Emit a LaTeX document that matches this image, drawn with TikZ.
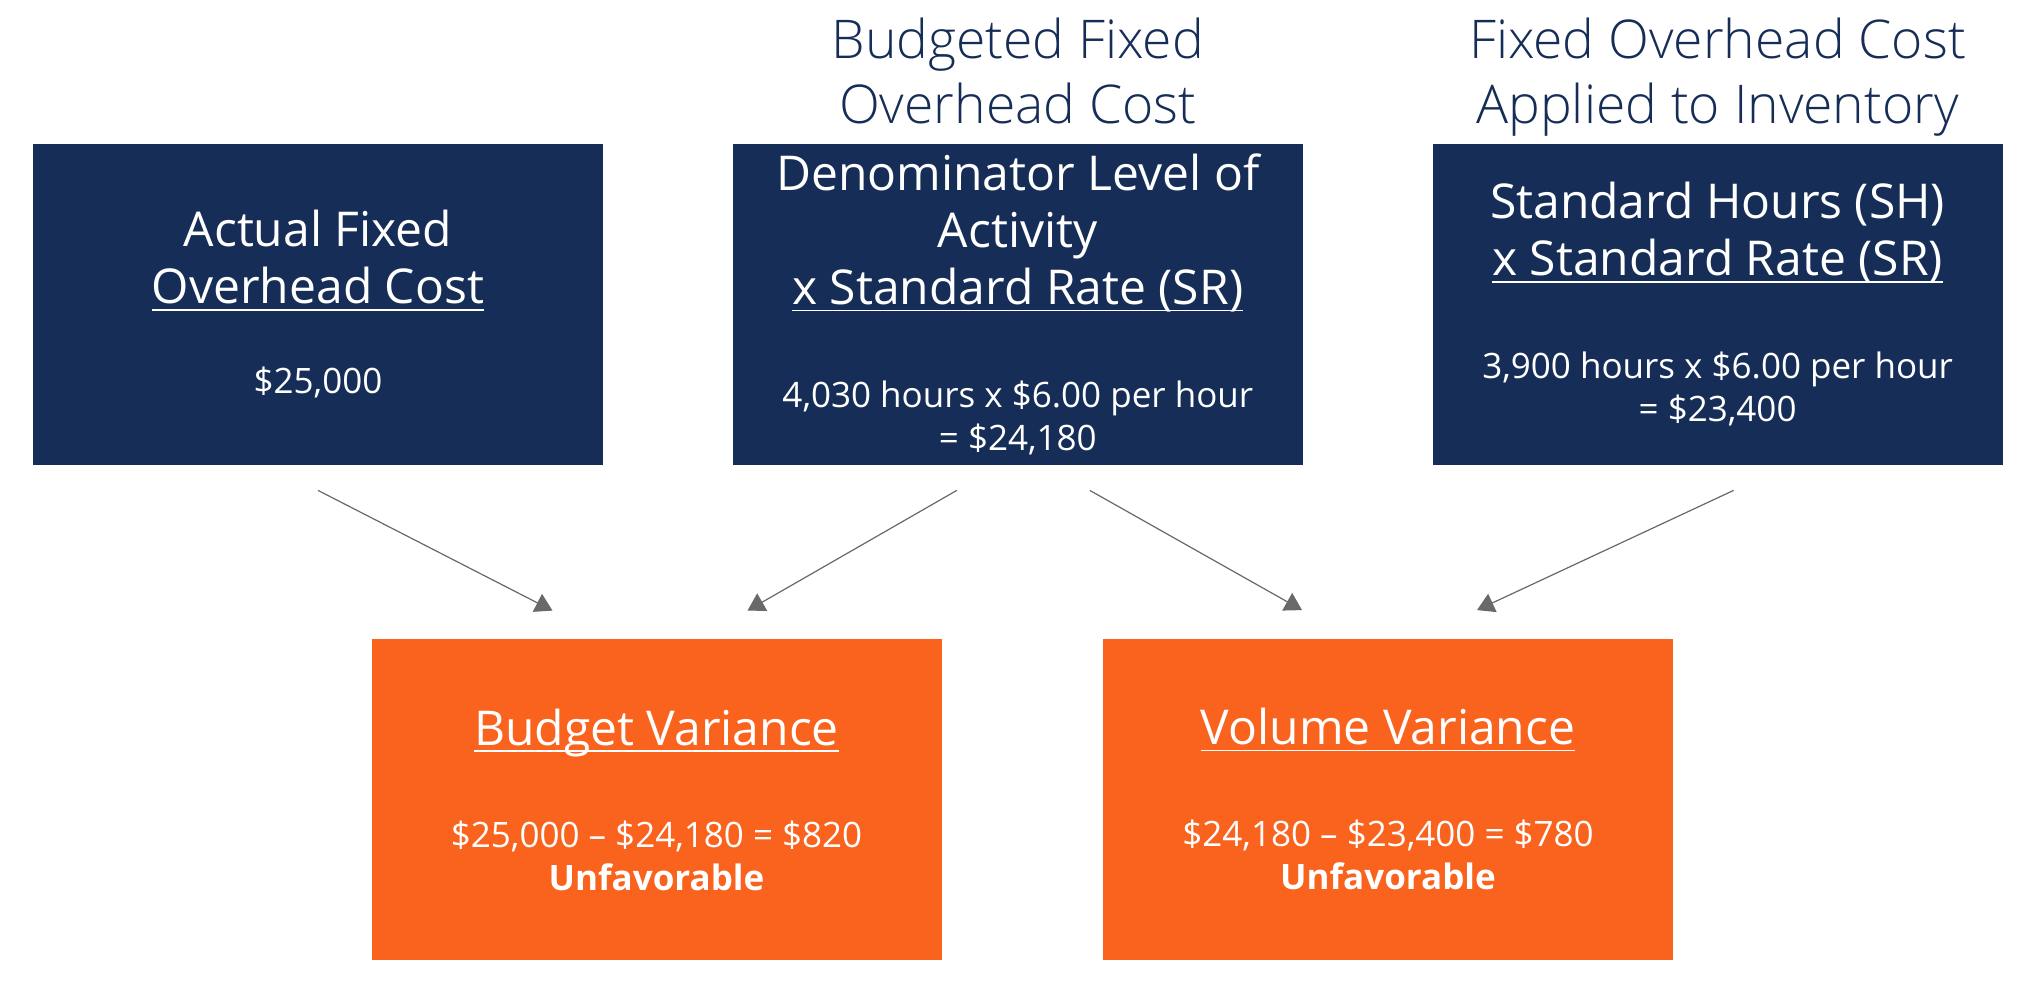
\documentclass[tikz,border=0pt]{standalone}
\usepackage{fontspec}
\setmainfont{Open Sans}
\IfFontExistsTF{Open Sans Light}{\newfontfamily\lightfont{Open Sans Light}}{\newfontfamily\lightfont{Open Sans}}
\usetikzlibrary{positioning}
\usetikzlibrary{arrows.meta}

\newcommand{\headfont}{\fontsize{24}{28.5}\selectfont}
\newcommand{\valfont}{\fontsize{17.5}{21.5}\selectfont}
\newcommand{\titlefont}{\lightfont\fontsize{26.7}{32.5}\selectfont}
\newcommand{\uln}[1]{\setbox0=\hbox{#1}\rlap{\rule[-3.4pt]{\wd0}{0.8pt}}\box0}

\begin{document}
\begin{tikzpicture}[x=0.5pt,y=-0.5pt,>={Triangle[width=10pt,length=8.5pt]},
	node distance=64.5pt,
	cost node/.style={rectangle,fill=navy,text=white,inner sep=0pt,minimum width=285pt,
		minimum height=160.5pt,align=center,font=\headfont},
	var node/.style={cost node,fill=orange},
	head node/.style={inner sep=0pt,align=center,text=navy,font=\titlefont},
	link/.style={->,draw=arrowgray,fill=arrowgray,line width=0.6pt}]
	
	\definecolor{navy}{RGB}{22,46,87}
	\definecolor{orange}{RGB}{249,99,30}
	\definecolor{arrowgray}{RGB}{105,105,105}
	
	\useasboundingbox (0,0) rectangle (2039,988);
	
	\node[cost node] (a) at (318,304.5) {Actual Fixed\\ \uln{Overhead Cost}\\[16.5pt]
		{\valfont \$25,000}};
	\node[cost node] (b) [right=of a] {Denominator Level of\\ Activity\\ \uln{x Standard Rate (SR)}\\[23pt]
		{\valfont 4,030 hours x \$6.00 per hour}\\[-7pt] {\valfont = \$24,180}};
	\node[cost node] (c) [right=of b] {Standard Hours (SH)\\ \uln{x Standard Rate (SR)}\\[23pt]
		{\valfont 3,900 hours x \$6.00 per hour}\\[-7pt] {\valfont = \$23,400}};
	\node[head node] (bhead) [above=0pt of b] {Budgeted Fixed\strut\\ Overhead Cost\strut};
	\node[head node] (chead) [above=0pt of c] {Fixed Overhead Cost\strut\\ Applied to Inventory\strut};
	
	\node[var node] (bv) at (656.5,799.5) {\uln{Budget Variance}\\[22.5pt]
		{\valfont \$25,000 -- \$24,180 = \$820}\\[-7pt] {\valfont\bfseries Unfavorable}};
	\node[var node] (vv) at (1388,799) {\uln{Volume Variance}\\[22.5pt]
		{\valfont \$24,180 -- \$23,400 = \$780}\\[-7pt] {\valfont\bfseries Unfavorable}};
	
	% arrow ends
	\coordinate (a-out) at ([yshift=-12.5pt]a.south);
	\coordinate (b-outl) at ([xshift=-30.5pt,yshift=-12.5pt]b.south);
	\coordinate (b-outr) at ([xshift=36pt,yshift=-12.5pt]b.south);
	\coordinate (c-out) at ([xshift=8pt,yshift=-12.5pt]c.south);
	\coordinate (bv-inl) at ([xshift=-52pt,yshift=14pt]bv.north);
	\coordinate (bv-inr) at ([xshift=45.5pt,yshift=14pt]bv.north);
	\coordinate (vv-inl) at ([xshift=-43pt,yshift=14pt]vv.north);
	\coordinate (vv-inr) at ([xshift=44.5pt,yshift=14pt]vv.north);
	
	\draw[link] (a-out) -- (bv-inl);
	\draw[link] (b-outl) -- (bv-inr);
	\draw[link] (b-outr) -- (vv-inl);
	\draw[link] (c-out) -- (vv-inr);
\end{tikzpicture}
\end{document}
